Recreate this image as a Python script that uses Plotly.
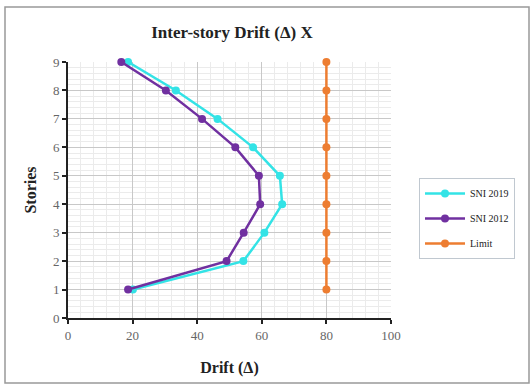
import plotly.graph_objects as go

stories = [1, 2, 3, 4, 5, 6, 7, 8, 9]
sni2019 = [20.1, 54.3, 60.8, 66.3, 65.6, 57.3, 46.3, 33.4, 18.6]
sni2012 = [18.6, 49.1, 54.4, 59.5, 59.1, 51.8, 41.5, 30.3, 16.5]
limit = [80, 80, 80, 80, 80, 80, 80, 80, 80]

font = "Liberation Serif"
fig = go.Figure()
fig.add_trace(go.Scatter(x=sni2019, y=stories, name="SNI 2019", mode="lines+markers", cliponaxis=False,
                         legendgroup="a",
                         line=dict(color="#33E3E6", width=2.5), marker=dict(size=8, color="#33E3E6")))
fig.add_trace(go.Scatter(x=sni2012, y=stories, name="SNI 2012", mode="lines+markers", cliponaxis=False,
                         legendgroup="b",
                         line=dict(color="#7030A0", width=2.5), marker=dict(size=8, color="#7030A0")))
fig.add_trace(go.Scatter(x=limit, y=stories, name="Limit", mode="lines+markers", cliponaxis=False,
                         legendgroup="c",
                         line=dict(color="#ED7D31", width=2.5), marker=dict(size=8, color="#ED7D31")))

fig.update_layout(
    width=531, height=388,
    margin=dict(l=68, r=140, t=62, b=70),
    paper_bgcolor="white", plot_bgcolor="white",
    font=dict(family=font, color="#333333"),
    title=dict(text="<b>Inter-story Drift (Δ) X</b>", x=232 / 531, xanchor="center",
               y=1 - 32 / 388, yanchor="middle", font=dict(size=17, color="#222222", family=font)),
    legend=dict(x=(419 - 68) / 323, y=(318 - 178) / 256, xanchor="left", yanchor="top",
                bordercolor="#C0C8D0", borderwidth=1, font=dict(size=10, family=font, color="#222222"),
                itemwidth=40, tracegroupgap=6),
    showlegend=True,
)
fig.update_xaxes(range=[0, 100], dtick=20, showline=True, linecolor="#222222", linewidth=2,
                 ticks="outside", ticklen=4, tickcolor="#222222", tickwidth=1.5,
                 tickfont=dict(size=13, color="#666666", family=font),
                 showgrid=True, gridcolor="#C8C8C8", gridwidth=1, zeroline=False,
                 minor=dict(dtick=4, showgrid=True, gridcolor="#EBEBEB", gridwidth=1),
                 title=dict(text="<b>Drift (Δ)</b>", font=dict(size=16, color="#222222", family=font), standoff=20))
fig.update_yaxes(range=[0, 9], dtick=1, showline=True, linecolor="#222222", linewidth=2,
                 ticks="outside", ticklen=4, tickcolor="#222222", tickwidth=1.5,
                 tickfont=dict(size=13, color="#666666", family=font),
                 showgrid=True, gridcolor="#C8C8C8", gridwidth=1, zeroline=False,
                 minor=dict(dtick=0.2, showgrid=True, gridcolor="#EBEBEB", gridwidth=1),
                 title=dict(text="<b>Stories</b>", font=dict(size=16, color="#222222", family=font), standoff=12))
fig.add_shape(type="rect", xref="paper", yref="paper",
              x0=(5 - 68) / 323, x1=(529 - 68) / 323,
              y0=(318 - 383) / 256, y1=(318 - 7) / 256,
              line=dict(color="#999999", width=1.5), layer="below")
fig.write_html("out.html", config={"displayModeBar": False},
               post_script="document.body.style.margin='0';")
